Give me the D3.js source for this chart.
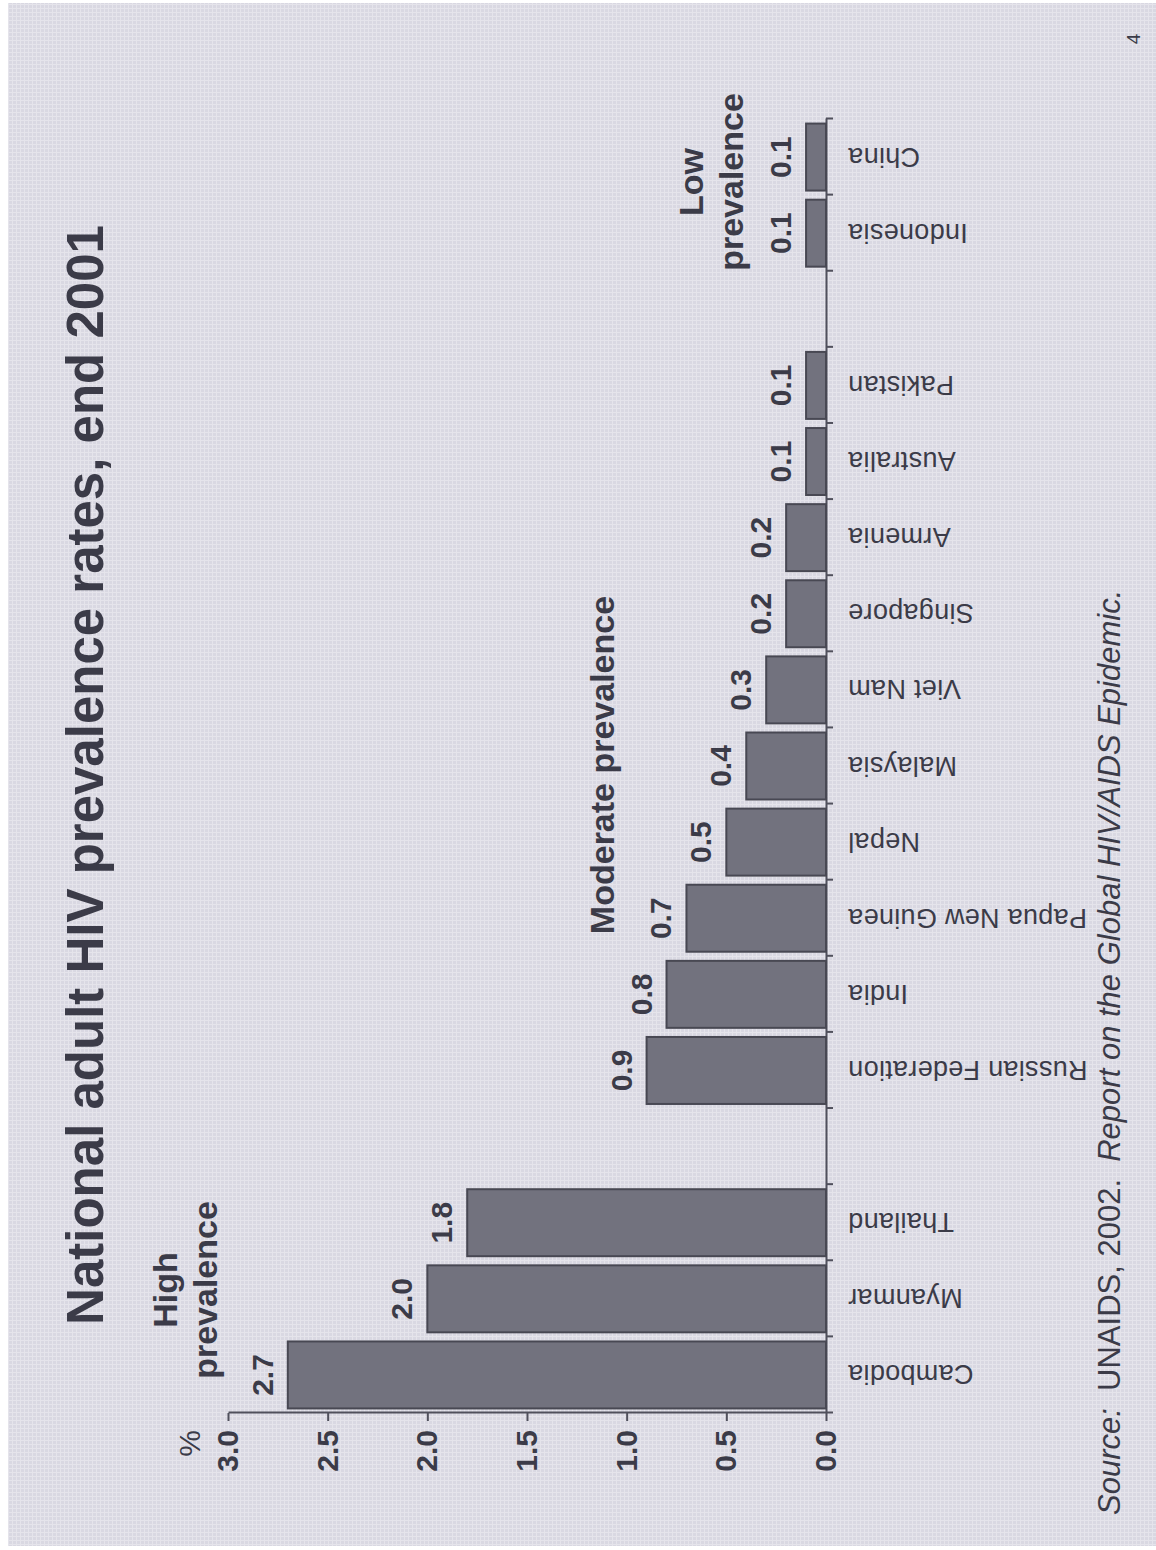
<!DOCTYPE html>
<html>
<head>
<meta charset="utf-8">
<title>National adult HIV prevalence rates, end 2001</title>
<script src="https://d3js.org/d3.v7.min.js"></script>
<style>
  body { margin: 0; background: #ffffff; }
  svg { display: block; font-family: 'Liberation Sans', Arial, sans-serif; }
</style>
</head>
<body>
<script>
'use strict';

// slide data, left to right as on the original landscape slide ('' = empty slot)
const countries = ['Cambodia', 'Myanmar', 'Thailand', '', 'Russian Federation', 'India',
  'Papua New Guinea', 'Nepal', 'Malaysia', 'Viet Nam', 'Singapore', 'Armenia',
  'Australia', 'Pakistan', '', 'Indonesia', 'China'];
const rates = [2.7, 2.0, 1.8, null, 0.9, 0.8, 0.7, 0.5, 0.4, 0.3, 0.2, 0.2,
  0.1, 0.1, null, 0.1, 0.1];
const rateTicks = [0, 0.5, 1.0, 1.5, 2.0, 2.5, 3.0];

(function() {

  const pageW = 1156;
  const pageH = 1550;
  const textColor = '#3b3b48';
  let svgContainer = '';
  let slide = ''; // group drawn in landscape coords, rotated onto the page
  let xScale = '';
  let yScale = '';

  window.onload = function() {
    svgContainer = d3.select('body')
      .append('svg')
      .attr('width', pageW)
      .attr('height', pageH);

    makeBackground();

    // slide is 1550 wide x 1156 tall, turned a quarter to the left
    slide = svgContainer.append('g')
      .attr('transform', 'translate(0,' + pageH + ') rotate(-90)');

    drawAxes();
    plotData();
    makeLabels();
  }

  // paper background with a faint woven texture
  function makeBackground() {
    let pat = svgContainer.append('defs')
      .append('pattern')
      .attr('id', 'weave')
      .attr('width', 4)
      .attr('height', 4)
      .attr('patternUnits', 'userSpaceOnUse');
    pat.append('rect')
      .attr('width', 4)
      .attr('height', 4)
      .attr('fill', '#d9d8e2');
    pat.append('path')
      .attr('d', 'M0 0.5H4M0.5 0V4')
      .attr('stroke', '#e5e4eb')
      .attr('stroke-width', 1);

    svgContainer.append('rect')
      .attr('x', 8)
      .attr('y', 3)
      .attr('width', pageW - 8)
      .attr('height', pageH - 7)
      .attr('fill', 'url(#weave)');
  }

  // value axis (left on the slide) and category axis (bottom on the slide)
  function drawAxes() {
    xScale = d3.scaleBand()
      .domain(d3.range(countries.length))
      .range([137, 1431])
      .paddingInner(0.12)
      .paddingOuter(0.06);

    yScale = d3.scaleLinear()
      .domain([0, 3])
      .range([826, 228]);

    let yAxis = d3.axisLeft(yScale)
      .tickValues(rateTicks)
      .tickFormat(d3.format('.1f'))
      .tickSize(8)
      .tickSizeOuter(0)
      .tickPadding(9);

    let gy = slide.append('g')
      .attr('transform', 'translate(137,0)')
      .call(yAxis);
    gy.selectAll('path, line').attr('stroke', '#50505c').attr('stroke-width', 2);
    gy.selectAll('text')
      .attr('fill', textColor)
      .style('font-size', '30px')
      .style('font-weight', 'bold')
      .style('font-family', "'Liberation Sans', Arial, sans-serif");

    // slot boundaries for the tick marks between categories
    let slotScale = d3.scaleLinear()
      .domain([0, countries.length])
      .range(xScale.range());

    let xAxis = d3.axisBottom(slotScale)
      .tickValues(d3.range(countries.length + 1))
      .tickFormat('')
      .tickSize(7)
      .tickSizeOuter(0);

    let gx = slide.append('g')
      .attr('transform', 'translate(0,826)')
      .call(xAxis);
    gx.selectAll('path, line').attr('stroke', '#50505c').attr('stroke-width', 2);

    // country names, turned so they read upward from the axis
    slide.append('g')
      .selectAll('text')
      .data(countries)
      .enter()
      .append('text')
        .attr('transform', function(d, i) {
          return 'translate(' + (xScale(i) + xScale.bandwidth() / 2) + ',848) rotate(-90)';
        })
        .attr('text-anchor', 'end')
        .attr('dy', '0.35em')
        .attr('fill', textColor)
        .style('font-size', '27px')
        .style('letter-spacing', '0.3px')
        .text(function(d) { return d });
  }

  // bars plus value labels
  function plotData() {
    let idx = d3.range(countries.length).filter(function(i) { return rates[i] != null });

    slide.append('g')
      .selectAll('rect')
      .data(idx)
      .enter()
      .append('rect')
        .attr('x', function(i) { return xScale(i) })
        .attr('y', function(i) { return yScale(rates[i]) })
        .attr('width', xScale.bandwidth())
        .attr('height', function(i) { return yScale(0) - yScale(rates[i]) })
        .attr('fill', '#72727e')
        .attr('stroke', '#484853')
        .attr('stroke-width', 2);

    slide.append('g')
      .selectAll('text')
      .data(idx)
      .enter()
      .append('text')
        .attr('x', function(i) { return xScale(i) + xScale.bandwidth() / 2 })
        .attr('y', function(i) { return yScale(rates[i]) - 15 })
        .attr('text-anchor', 'middle')
        .attr('fill', textColor)
        .style('font-size', '30px')
        .style('font-weight', 'bold')
        .text(function(i) { return d3.format('.1f')(rates[i]) });
  }

  // title, group notes, unit, source and page number
  function makeLabels() {
    slide.append('text')
      .attr('x', 775)
      .attr('y', 103)
      .attr('text-anchor', 'middle')
      .attr('fill', textColor)
      .style('font-size', '51px')
      .style('font-weight', 'bold')
      .text('National adult HIV prevalence rates, end 2001');

    let notes = [
      { x: 260, y: 177, lines: ['High', 'prevalence'] },
      { x: 785, y: 614, lines: ['Moderate prevalence'] },
      { x: 1368, y: 703, lines: ['Low', 'prevalence'] }
    ];
    notes.forEach(function(n) {
      let t = slide.append('text')
        .attr('text-anchor', 'middle')
        .attr('fill', textColor)
        .style('font-size', '34px')
        .style('font-weight', 'bold');
      n.lines.forEach(function(line, k) {
        t.append('tspan')
          .attr('x', n.x)
          .attr('y', n.y + k * 40)
          .text(line);
      });
    });

    slide.append('text')
      .attr('x', 120)
      .attr('y', 200)
      .attr('text-anchor', 'end')
      .attr('fill', textColor)
      .style('font-size', '30px')
      .text('%');

    let src = slide.append('text')
      .attr('x', 35)
      .attr('y', 1120)
      .attr('fill', textColor)
      .style('font-size', '31px')
      .style('white-space', 'pre');
    src.append('tspan').style('font-style', 'italic').text('Source:');
    src.append('tspan').text('  UNAIDS, 2002.  ');
    src.append('tspan').style('font-style', 'italic').text('Report on the Global HIV/AIDS Epidemic.');

    slide.append('text')
      .attr('x', 1511)
      .attr('y', 1140)
      .attr('text-anchor', 'middle')
      .attr('fill', textColor)
      .style('font-size', '19px')
      .text('4');
  }

})();
</script>
</body>
</html>
